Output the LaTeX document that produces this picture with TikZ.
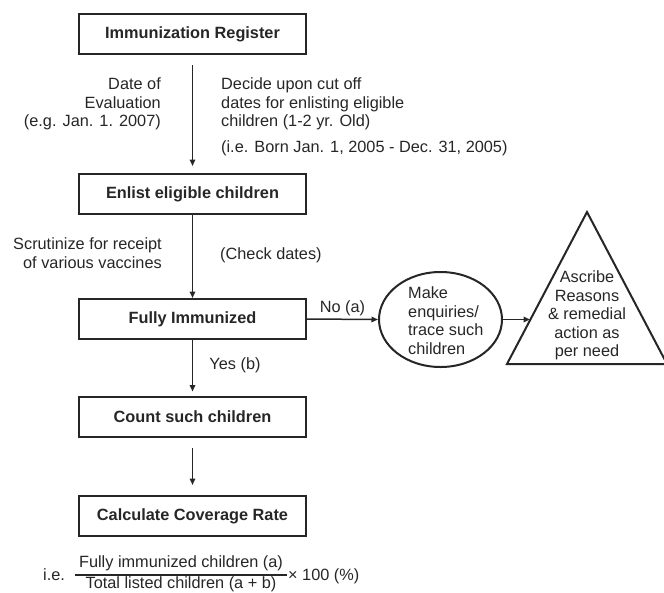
\documentclass[tikz,border=0pt]{standalone}
\usepackage{fontspec}
\setmainfont{Liberation Sans}
\usetikzlibrary{arrows.meta,shapes.geometric}
\begin{document}
\begin{tikzpicture}[x=1pt,y=-1pt,
  every node/.style={font=\fontsize{16.3}{18.6}\selectfont, text=black!85, inner sep=0pt},
  flowbox/.style={draw=black!85, line width=2pt, minimum width=227pt, minimum height=40pt, font=\fontsize{16.3}{18.6}\selectfont\bfseries},
  flowarrow/.style={draw=black!85, line width=1.5pt, -{Triangle[length=6.5pt,width=5.5pt]}},
  lbl/.style={align=left}
]
\useasboundingbox (0,0) rectangle (664,592);
% boxes
\node[flowbox] (reg) at (192.5,34) {Immunization Register};
\node[flowbox] (enl) at (192.5,194) {Enlist eligible children};
\node[flowbox] (full) at (192.5,319) {Fully Immunized};
\node[flowbox] (count) at (192.5,416.5) {Count such children};
\node[flowbox] (calc) at (192.5,516) {Calculate Coverage Rate};
% vertical arrows
\draw[flowarrow, shorten <=10pt, shorten >=7pt] (reg.south) -- (enl.north);
\draw[flowarrow] (enl.south) -- (full.north);
\draw[flowarrow, shorten >=4pt] (full.south) -- (count.north);
\draw[flowarrow, shorten <=10pt, shorten >=10pt] (count.south) -- (calc.north);
% labels
\node[align=right, anchor=east] (doe) at (161,104) {Date of\\Evaluation\\(e.g. Jan. 1. 2007)};
\node[lbl, anchor=west] (dec) at (221,104) {Decide upon cut off\\dates for enlisting eligible\\children (1-2 yr. Old)};
\node[anchor=west] (born) at (221,148) {(i.e. Born Jan. 1, 2005 - Dec. 31, 2005)};
\node[align=right, anchor=east] (scr) at (162,253) {Scrutinize for receipt\\of various vaccines};
\node[anchor=west] (chk) at (220,255) {(Check dates)};
\node (yes) at (235,365) {Yes (b)};
% ellipse
\node[ellipse, draw=black!85, line width=2pt, minimum width=123pt, minimum height=95pt] (circ) at (440.5,319.5) {};
\node[lbl, anchor=west] (circtxt) at (408,320.5) {Make\\enquiries/\\trace such\\children};
\draw[flowarrow] (full.east) -- node[above=3pt] (no) {No (a)} (circ.west);
% triangle
\coordinate (apex) at (587,212);
\coordinate (bl) at (507,364);
\coordinate (br) at (667,364);
\draw[draw=black!85, line width=2pt, line join=miter] (apex) -- (br) -- (bl) -- cycle;
\node[align=center] (tritxt) at (587,315.5) {Ascribe\\Reasons\\\& remedial\\action as\\per need};
\coordinate (trileft) at (530,319.5);
\draw[flowarrow] (circ.east) -- (trileft);
% formula
\node[anchor=west] (ie) at (43,575) {i.e.};
\node (num) at (181,563) {Fully immunized children (a)};
\node (den) at (181,584.5) {Total listed children (a + b)};
\coordinate (barl) at (75,575);
\coordinate (barr) at (287,575);
\draw[draw=black!85, line width=1.1pt] (barl) -- (barr);
\node[anchor=west] (times) at (288,576) {× 100 (\%)};
\end{tikzpicture}
\end{document}
